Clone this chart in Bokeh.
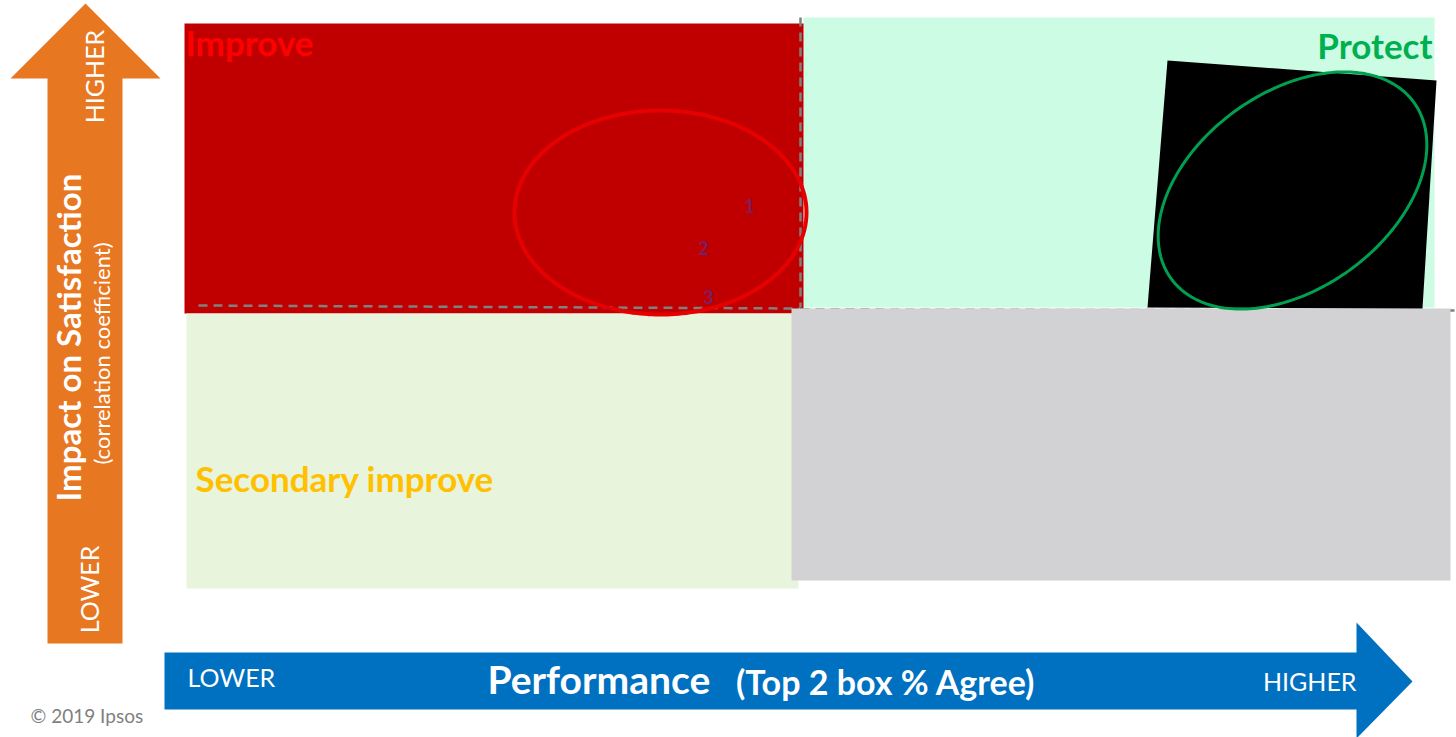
import numpy as np
from bokeh.plotting import figure
from bokeh.models import Range1d
from bokeh.core.properties import value
from bokeh.embed import file_html
from bokeh.resources import INLINE

# ---- data ----
point_labels = ["1", "2", "3"]
point_x = [749, 703, 708]
point_y = [205, 247, 296]

quad_names = ["Improve", "Protect", "Secondary improve", "Maintain"]
quad_left = [184, 803, 186, 791]
quad_right = [803, 1434, 798, 1450]
quad_top = [23, 17, 313, 308]
quad_bottom = [313, 307, 588, 580]
quad_colors = ["#C00000", "#CCFCE4", "#E8F4DC", "#D2D2D4"]

FONT = value("Lato")

p = figure(width=1456, height=737, x_range=Range1d(0, 1456), y_range=Range1d(737, 0),
           output_backend="svg", toolbar_location=None, min_border=0)
p.axis.visible = False
p.grid.visible = False
p.outline_line_color = None
p.background_fill_color = "white"

# quadrants (draw order: protect, improve, secondary, grey)
for i in [1, 0, 2]:
    p.quad(left=quad_left[i], right=quad_right[i], top=quad_top[i], bottom=quad_bottom[i],
           fill_color=quad_colors[i], line_color=None)

# dashed median lines
DASH = "9 6"
p.line([198, 800], [305, 308], line_color="#808080", line_width=2.5, line_dash=DASH)
p.line([800, 800], [17, 307], line_color="#808080", line_width=2.5, line_dash=DASH)
p.line([800, 1456], [309, 310], line_color="#808080", line_width=2.5, line_dash=DASH)

i = 3
p.quad(left=quad_left[i], right=quad_right[i], top=quad_top[i], bottom=quad_bottom[i],
       fill_color=quad_colors[i], line_color=None)

# black tilted box in protect
p.patch([1167, 1436, 1422, 1147], [60, 80, 308, 307], fill_color="black", line_color=None)

# green ellipse
t = np.linspace(0, 2 * np.pi, 240)
ang = np.deg2rad(36)
a, b = 150, 98
cx, cy = 1292, 190
ex = cx + a * np.cos(t) * np.cos(ang) - b * np.sin(t) * np.sin(ang)
ey = cy - (a * np.cos(t) * np.sin(ang) + b * np.sin(t) * np.cos(ang))
p.line(ex, ey, line_color="#00A050", line_width=3)

# red ellipse
rx = 660 + 146 * np.cos(t)
ry = 212 + 102 * np.sin(t)
p.line(rx, ry, line_color="#E60000", line_width=4)

# point labels
p.text(x=point_x, y=point_y, text=point_labels, text_color="#7C1E62",
       text_font=FONT, text_font_style="bold", text_font_size="18px",
       text_align="center", text_baseline="middle")

# quadrant labels
p.text(x=[185], y=[41], text=["Improve"], text_color="#FF0000", text_font=FONT,
       text_font_style="bold", text_font_size="35px", text_baseline="middle")
p.text(x=[1432], y=[44], text=["Protect"], text_color="#00B050", text_font=FONT,
       text_font_style="bold", text_font_size="35px", text_align="right", text_baseline="middle")
p.text(x=[195], y=[477], text=["Secondary improve"], text_color="#FFC000", text_font=FONT,
       text_font_style="bold", text_font_size="35px", text_baseline="middle")

# orange vertical arrow
p.patch([47, 47, 10, 85, 160, 122, 122], [643, 78, 78, 3, 78, 78, 643],
        fill_color="#E87722", line_color=None)
p.text(x=[93], y=[76], text=["HIGHER"], angle=np.pi / 2, text_color="white", text_font=FONT,
       text_font_size="25px", text_align="center", text_baseline="middle")
p.text(x=[67], y=[337], text=["Impact on Satisfaction"], angle=np.pi / 2, text_color="white",
       text_font=FONT, text_font_style="bold", text_font_size="33px",
       text_align="center", text_baseline="middle")
p.text(x=[101], y=[353], text=["(correlation coefficient)"], angle=np.pi / 2, text_color="white",
       text_font=FONT, text_font_size="22px", text_align="center", text_baseline="middle")
p.text(x=[88], y=[589], text=["LOWER"], angle=np.pi / 2, text_color="white", text_font=FONT,
       text_font_size="25px", text_align="center", text_baseline="middle")

# blue horizontal arrow
p.patch([164, 1356, 1356, 1412, 1356, 1356, 164], [652, 652, 622, 681, 738, 709, 709],
        fill_color="#0070C0", line_color=None)
p.text(x=[187], y=[676], text=["LOWER"], text_color="white", text_font=FONT,
       text_font_size="25px", text_baseline="middle")
p.text(x=[1356], y=[680], text=["HIGHER"], text_color="white", text_font=FONT,
       text_font_size="25px", text_align="right", text_baseline="middle")
p.text(x=[487], y=[678], text=["Performance"], text_color="white", text_font=FONT,
       text_font_style="bold", text_font_size="39px", text_baseline="middle")
p.text(x=[1035], y=[681], text=["(Top 2 box % Agree)"], text_color="white", text_font=FONT,
       text_font_style="bold", text_font_size="34px", text_align="right", text_baseline="middle")

# copyright
p.text(x=[30], y=[715], text=["© 2019 Ipsos"], text_color="#7F7F7F", text_font=FONT,
       text_font_size="19px", text_baseline="middle")

open("out.html", "w").write(file_html(p, INLINE))
